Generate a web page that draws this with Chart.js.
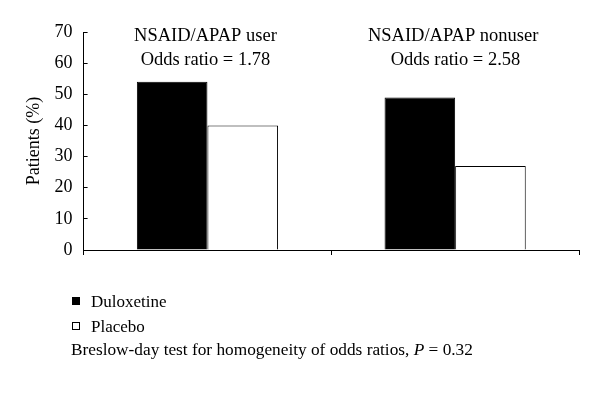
<!DOCTYPE html>
<html lang="en">
<head>
  <meta charset="UTF-8" />
  <title>Duloxetine vs placebo by NSAID/APAP use</title>
  <script src="https://cdn.jsdelivr.net/npm/chart.js"></script>
  <style>
    body { margin: 0; background: #fff; font-family: "Liberation Serif", "DejaVu Serif", serif; color: #000; }
    #wrap { position: relative; width: 600px; height: 402px; }
    canvas { position: absolute; left: 0; top: 0; }
    .legend-row { position: absolute; left: 72px; font-size: 17px; line-height: 20px; }
    .swatch { display: inline-block; width: 8px; height: 8px; border: 1px solid #000; box-sizing: border-box; margin-right: 11px; vertical-align: 2px; }
    #note { position: absolute; left: 71px; top: 340px; font-size: 17.3px; line-height: 20px; white-space: nowrap; }
  </style>
</head>
<body>
  <div id="wrap">
    <canvas id="chart" width="600" height="402"></canvas>
    <div class="legend-row" style="top:292px;"><span class="swatch" style="background:#000;"></span>Duloxetine</div>
    <div class="legend-row" style="top:317px;"><span class="swatch" style="background:#fff;"></span>Placebo</div>
    <div id="note">Breslow-day test for homogeneity of odds ratios, <i>P</i> = 0.32</div>
  </div>

<script>
// data
const groupLabels = [
  ['NSAID/APAP user', 'Odds ratio = 1.78'],
  ['NSAID/APAP nonuser', ' Odds ratio = 2.58']
];
const duloxetine = [54, 49];
const placebo = [40, 27];
const yMin = 0, yMax = 70, yStep = 10;

const serif = '"Liberation Serif", "DejaVu Serif", serif';

// group titles sit inside the plot, above each pair of bars
const groupTitles = {
  id: 'groupTitles',
  afterDraw(chart) {
    const ctx = chart.ctx;
    const xs = chart.scales.x;
    const top = chart.chartArea.top;
    ctx.save();
    ctx.fillStyle = '#000';
    ctx.font = '18.5px ' + serif;
    ctx.textAlign = 'center';
    ctx.textBaseline = 'middle';
    groupLabels.forEach((lines, i) => {
      const x = xs.getPixelForValue(i);
      lines.forEach((t, j) => ctx.fillText(t, x - 2, top + 4 + j * 24));
    });
    ctx.restore();
  }
};

new Chart(document.getElementById('chart').getContext('2d'), {
  type: 'bar',
  data: {
    labels: groupLabels.map(l => l[0]),
    datasets: [
      { label: 'Duloxetine', data: duloxetine, backgroundColor: '#000', borderColor: '#000', borderWidth: 1 },
      { label: 'Placebo', data: placebo, backgroundColor: '#fff', borderColor: '#000', borderWidth: 1 }
    ]
  },
  options: {
    responsive: false,
    animation: false,
    layout: { padding: { left: 18, right: 21, top: 32, bottom: 147 } },
    datasets: { bar: { categoryPercentage: 0.57, barPercentage: 1.0 } },
    plugins: { legend: { display: false }, tooltip: { enabled: false } },
    scales: {
      x: {
        grid: { offset: true, drawOnChartArea: false, drawTicks: true, tickLength: 5, color: '#000' },
        border: { color: '#000', width: 1 },
        ticks: { display: false }
      },
      y: {
        min: yMin, max: yMax,
        grid: { drawOnChartArea: false, tickLength: -4, color: '#000' },
        border: { color: '#000', width: 1 },
        ticks: { stepSize: yStep, color: '#000', font: { family: serif, size: 18 }, padding: 15 },
        title: { display: true, text: 'Patients (%)', color: '#000', font: { family: serif, size: 18 }, padding: { top: 5, bottom: -5 } }
      }
    }
  },
  plugins: [groupTitles]
});
</script>
</body>
</html>
